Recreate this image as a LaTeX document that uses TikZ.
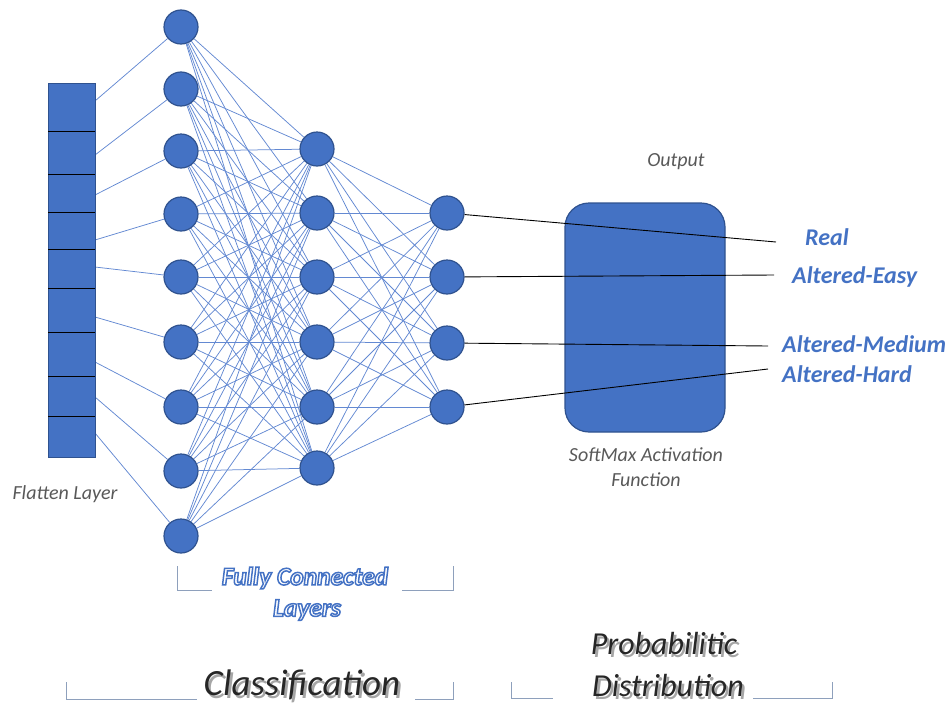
\documentclass[tikz,border=0pt]{standalone}
\usepackage{fontspec}
\setmainfont{Carlito}
\usetikzlibrary{calc}
\pgfdeclarelayer{background}
\pgfsetlayers{background,main}
\definecolor{nodeblue}{HTML}{4472C4}
\definecolor{nodeedge}{HTML}{2F528F}
\definecolor{linkblue}{HTML}{6389D2}
\definecolor{labelblue}{HTML}{4472C4}
\definecolor{graytext}{HTML}{595959}
\definecolor{brack}{HTML}{8EA0BC}
\definecolor{shadowgray}{HTML}{A6A6A6}
\newcommand{\strokedtext}[1]{\special{pdf:literal direct 1 Tr 1.5 w}#1\special{pdf:literal direct 0 Tr}}
\newcommand{\shadowtext}[1]{{\color{shadowgray}\rlap{\raisebox{-2.5pt}{\hspace{2.5pt}#1}}}{\color{black!85}#1}}
\begin{document}
\begin{tikzpicture}[x=1pt,y=-1pt,
  neuron/.style={circle, fill=nodeblue, draw=nodeedge, line width=1.2pt, minimum size=34pt, inner sep=0pt},
  link/.style={draw=linkblue, line width=0.75pt},
  outline/.style={draw=black, line width=0.9pt},
  bracketline/.style={draw=brack, line width=1pt},
  graylabel/.style={text=graytext, font=\fontsize{20}{24}\selectfont\itshape, align=center, inner sep=0pt},
  classlabel/.style={text=labelblue, font=\fontsize{24}{28}\selectfont\bfseries\itshape, anchor=west, inner sep=0pt},
  fclabel/.style={text=labelblue, font=\fontsize{25.5}{30}\selectfont\bfseries\itshape, inner sep=0pt},
  biglabel/.style={font=\fontsize{37}{41}\selectfont\itshape, inner sep=0pt},
  midlabel/.style={font=\fontsize{32}{36}\selectfont\itshape, inner sep=0pt}
]
\useasboundingbox (0,0) rectangle (950,707);

% flatten layer
\node[fill=nodeblue, draw=nodeedge, line width=1pt, minimum width=47pt, minimum height=374pt, inner sep=0pt] (flat) at (71.5,270) {};
\foreach \y [count=\k] in {131,174,212,249,288,332,376,416}
  \draw[black, line width=1pt] (48,\y) coordinate (dl\k) -- (95,\y) coordinate (dr\k);

% neurons
\foreach \i/\y in {0/27,1/89,2/151,3/214,4/277,5/342,6/407,7/471,8/536}
  \node[neuron] (a\i) at (181,\y) {};
\foreach \i/\y in {0/149,1/213,2/277,3/342,4/407,5/468}
  \node[neuron] (b\i) at (317,\y) {};
\foreach \i/\y in {0/213,1/277,2/343,3/407}
  \node[neuron] (c\i) at (447,\y) {};

% flatten-to-layer1 points
\foreach \i/\y in {0/101,1/155,2/195,3/240,4/267,5/317,6/362,7/397,8/433}
  \coordinate (f\i) at (95,\y);

\begin{pgfonlayer}{background}
  \foreach \i in {0,...,8} \draw[link] (f\i) -- (a\i);
  \foreach \i in {0,...,8} \foreach \j in {0,...,5} \draw[link] (a\i) -- (b\j);
  \foreach \i in {0,...,5} \foreach \j in {0,...,3} \draw[link] (b\i) -- (c\j);
\end{pgfonlayer}

% softmax box
\node[fill=nodeblue, draw=nodeedge, line width=1.2pt, rounded corners=24pt, minimum width=160pt, minimum height=229pt, inner sep=0pt] (soft) at (645,317.5) {};

% output lines
\coordinate (o0) at (776,242);
\coordinate (o1) at (774,275);
\coordinate (o2) at (768,346);
\coordinate (o3) at (768,369);
\foreach \i in {0,...,3} \draw[outline] (c\i) -- (o\i);

% labels
\node[graylabel] (outlbl) at (676,162) {Output};
\node[graylabel] (softlbl) at (646,467) {SoftMax Activation\\[1pt]Function};
\node[graylabel] (flatlbl) at (65,494) {Flatten Layer};

\node[classlabel] (real) at (805,237) {Real};
\node[classlabel] (easy) at (792,277) {Altered-Easy};
\node[classlabel] (med) at (782,344) {Altered-Medium};
\node[classlabel] (hard) at (782,374) {Altered-Hard};

% Fully connected (outlined text)
\node[fclabel] (fc1) at (305,578) {\strokedtext{Fully Connected}};
\node[fclabel] (fc2) at (307,610) {\strokedtext{Layers}};

% Classification / Probabilistic (shadowed text)
\node[biglabel] (cls) at (302,686.5) {\shadowtext{Classification}};
\node[midlabel] (prob1) at (664,645) {\shadowtext{Probabilitic}};
\node[midlabel] (prob2) at (668,687) {\shadowtext{Distribution}};

% brackets
\draw[bracketline] (177,566) -- (177,590) -- (212,590);
\draw[bracketline] (402,590) -- (453,590) -- (453,566);
\draw[bracketline] (66,682) -- (66,699) -- (197,699);
\draw[bracketline] (415,699) -- (453,699) -- (453,682);
\draw[bracketline] (511,682) -- (511,698) -- (553,698);
\draw[bracketline] (753,698) -- (832,698) -- (832,682);
\end{tikzpicture}
\end{document}
